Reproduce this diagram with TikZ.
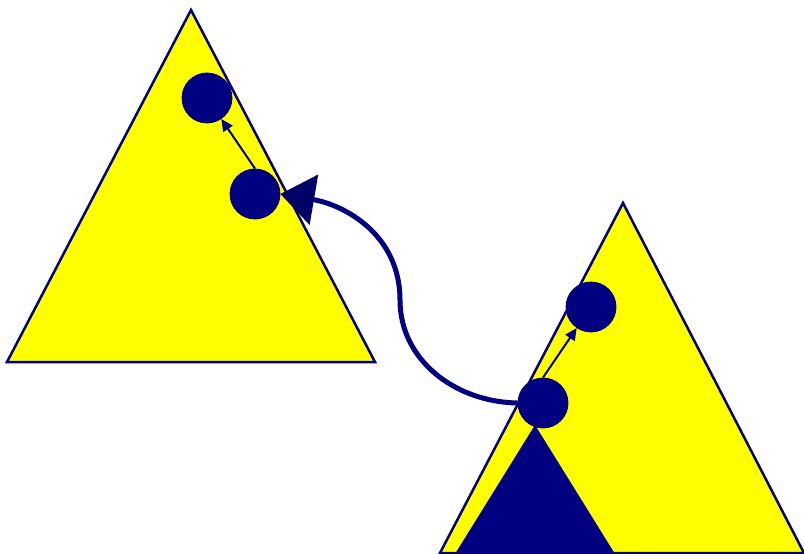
\documentclass[tikz,border=0pt]{standalone}
\usetikzlibrary{arrows.meta}
\definecolor{navyb}{HTML}{000080}
\definecolor{navyd}{HTML}{000066}
\definecolor{yel}{HTML}{FFFF00}
\tikzset{
  tri/.style={fill=yel,draw=navyb,line width=2.5pt,line join=miter},
  dot/.style={circle,fill=navyb,draw=navyd,line width=0.8pt,minimum size=50pt,inner sep=0pt},
  smallarrow/.style={draw=navyb,line width=2pt,-{Triangle[length=12pt,width=11pt]}},
  bigarrow/.style={draw=navyb,line width=5pt,-{Triangle[length=34pt,width=50pt,fill=navyd,color=navyd]}}
}
\begin{document}
\begin{tikzpicture}[x=1pt,y=-1pt]
\useasboundingbox (0,0) rectangle (804,554);
% left triangle
\draw[tri] (191,10) coordinate (la) -- (7,362) coordinate (lbl) -- (375,362) coordinate (lbr) -- cycle;
\node[dot] (l1) at (207,98) {};
\node[dot] (l2) at (255,194) {};
\draw[smallarrow] (l2.north) -- (l1);
% right triangle
\draw[tri] (623,203) coordinate (ra) -- (440,553) coordinate (rbl) -- (804,553) coordinate (rbr) -- cycle;
\fill[navyb] (535,425) coordinate (na) -- (455,554) -- (615,554) -- cycle;
\node[dot] (r1) at (591,307) {};
\node[dot] (r2) at (543,403) {};
\draw[smallarrow] (r2.north) -- (r1);
% big curved arrow
\coordinate (mid) at (400,300);
\draw[bigarrow] (r2.west) .. controls (455,402) and (400,360) .. (mid)
  .. controls (400,235) and (345,205) .. (l2.east);
\end{tikzpicture}
\end{document}
